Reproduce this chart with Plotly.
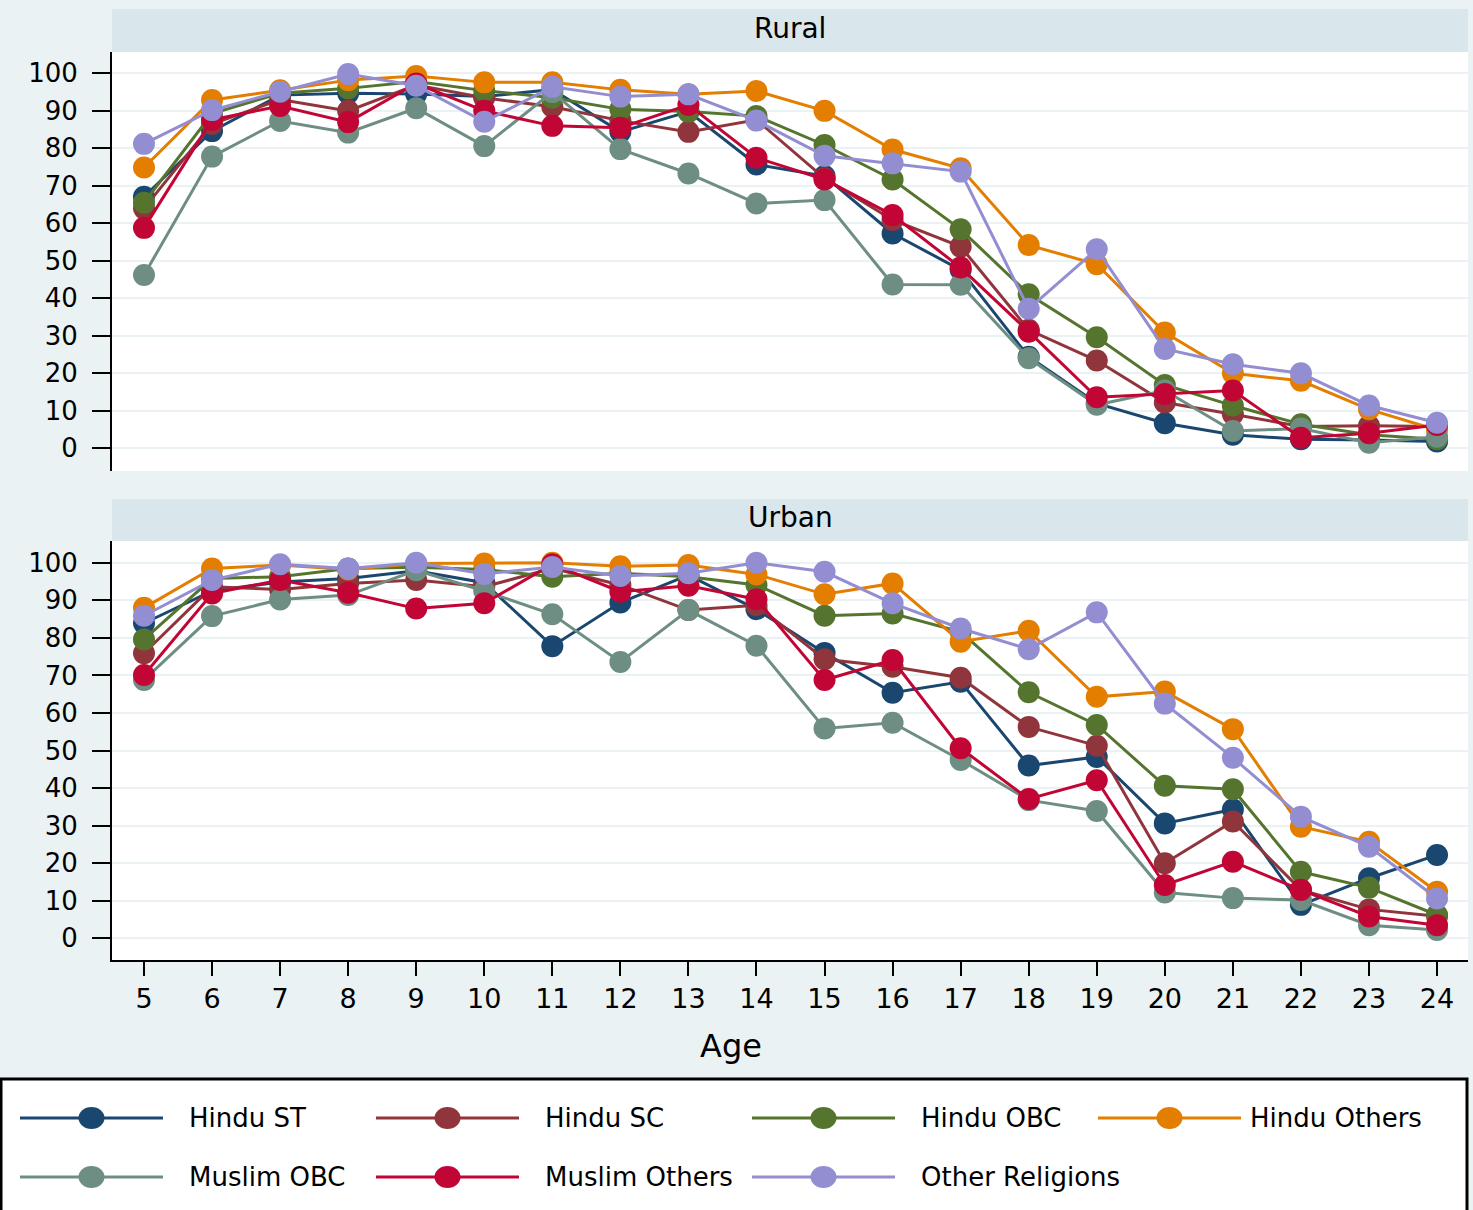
import plotly.graph_objects as go

# ---- data -------------------------------------------------------------
ages = list(range(5, 25))
y_ticks = list(range(0, 101, 10))

groups = ["Hindu ST", "Hindu SC", "Hindu OBC", "Hindu Others",
          "Muslim OBC", "Muslim Others", "Other Religions"]
colors = ["#1A476F", "#90353B", "#55752F", "#E37E00",
          "#6E8E84", "#C10534", "#938DD2"]

rural_hindu_st = [67.1, 84.6, 94.2, 94.7, 94.5, 93.8, 95.7, 84.4, 89.8, 75.7,
                  72.6, 57.3, 47.6, 24.4, 12.0, 6.7, 3.6, 2.4, 2.2, 1.8]
rural_hindu_sc = [64.0, 86.5, 93.0, 90.0, 96.9, 93.5, 91.1, 87.4, 84.4, 87.6,
                  72.0, 60.9, 53.8, 31.6, 23.4, 12.2, 9.1, 5.8, 6.0, 5.8]
rural_hindu_obc = [65.5, 89.3, 94.7, 96.0, 97.8, 95.4, 93.5, 90.4, 89.8, 88.6,
                   80.9, 71.7, 58.4, 41.1, 29.6, 16.9, 11.4, 6.4, 3.6, 2.4]
rural_hindu_others = [74.9, 92.9, 95.5, 98.2, 99.3, 97.6, 97.6, 95.6, 94.4, 95.3,
                      90.0, 79.7, 74.7, 54.2, 49.1, 30.9, 20.0, 18.0, 10.4, 4.9]
rural_muslim_obc = [46.2, 77.8, 87.3, 84.2, 90.7, 80.6, 95.0, 79.8, 73.3, 65.3,
                    66.2, 43.7, 43.6, 24.0, 11.6, 15.4, 4.6, 5.3, 1.5, 3.1]
rural_muslim_others = [58.8, 87.6, 91.3, 87.0, 97.3, 90.0, 86.0, 85.5, 91.6, 77.5,
                       71.7, 62.2, 48.2, 31.1, 13.6, 14.5, 15.4, 2.8, 4.0, 6.2]
rural_other_religions = [81.2, 90.2, 95.1, 99.8, 96.7, 87.1, 96.4, 93.8, 94.4, 87.4,
                         78.0, 76.0, 73.8, 37.2, 53.1, 26.5, 22.4, 20.0, 11.4, 6.8]

urban_hindu_st = [83.9, 92.5, 94.9, 95.8, 97.9, 94.7, 77.8, 89.4, 96.7, 87.6,
                  76.0, 65.4, 68.3, 46.0, 48.3, 30.6, 34.3, 8.9, 16.0, 22.2]
urban_hindu_sc = [75.9, 93.6, 92.9, 94.5, 95.4, 93.6, 98.5, 94.1, 87.4, 88.7,
                  74.3, 72.3, 69.4, 56.3, 51.3, 20.0, 31.1, 12.9, 7.7, 5.9]
urban_hindu_obc = [79.6, 95.8, 96.3, 98.5, 98.8, 98.2, 96.3, 97.2, 96.3, 94.1,
                   85.9, 86.5, 81.6, 65.5, 56.8, 40.6, 39.7, 17.7, 13.5, 6.2]
urban_hindu_others = [88.0, 98.5, 99.4, 98.2, 99.8, 99.8, 100.0, 99.1, 99.4, 96.9,
                      91.6, 94.5, 79.0, 81.9, 64.3, 65.7, 55.7, 29.7, 25.7, 12.4]
urban_muslim_obc = [68.8, 85.8, 90.2, 91.4, 98.0, 92.5, 86.3, 73.6, 87.4, 77.9,
                    55.9, 57.4, 47.5, 36.8, 33.9, 12.2, 10.7, 10.2, 3.5, 2.2]
urban_muslim_others = [70.1, 91.8, 95.4, 92.0, 87.8, 89.2, 99.6, 92.3, 93.9, 90.3,
                       68.8, 74.1, 50.6, 37.1, 42.1, 14.2, 20.4, 12.9, 5.8, 3.5]
urban_other_religions = [85.9, 95.4, 99.6, 98.5, 100.0, 97.0, 98.9, 96.5, 97.2, 100.0,
                         97.6, 89.2, 82.5, 77.0, 86.8, 62.5, 48.1, 32.4, 24.4, 10.6]

rural = [rural_hindu_st, rural_hindu_sc, rural_hindu_obc, rural_hindu_others,
         rural_muslim_obc, rural_muslim_others, rural_other_religions]
urban = [urban_hindu_st, urban_hindu_sc, urban_hindu_obc, urban_hindu_others,
         urban_muslim_obc, urban_muslim_others, urban_other_religions]

# ---- page geometry (pixels) --------------------------------------------
W, H = 1473, 1210
FONT = "DejaVu Sans"
OUTER_BG = "#EAF2F3"
STRIP_BG = "#D9E6EB"

plot_x0, plot_x1 = 112, 1468
panels = [  # (strip top, plot top, plot bottom)
    (9, 52, 471),
    (499, 541, 960),
]


def px_x(x):
    return x / W


def px_y(y):
    return 1 - y / H


fig = go.Figure()

for p, (data, ax) in enumerate([(rural, ""), (urban, "2")]):
    for name, vals, col in zip(groups, data, colors):
        fig.add_trace(go.Scatter(
            x=ages, y=vals, name=name, mode="lines+markers",
            xaxis="x" + ax, yaxis="y" + ax,
            line=dict(color=col, width=3),
            marker=dict(color=col, size=22, line=dict(width=0)),
            showlegend=False,
        ))

yaxis_common = dict(
    tickvals=y_ticks, showgrid=True, gridcolor=OUTER_BG, gridwidth=2,
    zeroline=False, showline=True, linecolor="black", linewidth=2,
    ticks="outside", ticklen=18, tickwidth=2, tickcolor="black",
    tickfont=dict(family=FONT, size=26, color="black"),
    ticklabelstandoff=9,
)
xrange = [4.53, 24.455]

fig.update_layout(
    width=W, height=H,
    margin=dict(l=0, r=0, t=0, b=0),
    paper_bgcolor=OUTER_BG, plot_bgcolor="white",
    xaxis=dict(domain=[px_x(plot_x0), px_x(plot_x1)], range=xrange,
               anchor="y", visible=False, showgrid=False),
    yaxis=dict(domain=[px_y(471), px_y(52)], range=[-6.05, 105.7],
               anchor="x", **yaxis_common),
    xaxis2=dict(domain=[px_x(plot_x0), px_x(plot_x1)], range=xrange,
                anchor="y2", showgrid=False, zeroline=False,
                showline=True, linecolor="black", linewidth=2,
                ticks="outside", ticklen=14, tickwidth=2, tickcolor="black",
                tickvals=ages, ticktext=[str(a) for a in ages],
                tickfont=dict(family=FONT, size=27, color="black"),
                ticklabelstandoff=0),
    yaxis2=dict(domain=[px_y(960), px_y(541)], range=[-5.78, 105.8],
                anchor="x2", **yaxis_common),
    showlegend=False,
)

shapes = []
annotations = []

# panel title strips
for title, (strip_top, plot_top, _) in zip(["Rural", "Urban"], panels):
    shapes.append(dict(type="rect", xref="paper", yref="paper",
                       x0=px_x(plot_x0), x1=px_x(plot_x1),
                       y0=px_y(plot_top), y1=px_y(strip_top),
                       fillcolor=STRIP_BG, line=dict(width=0), layer="below"))
    annotations.append(dict(text=title, xref="paper", yref="paper",
                            x=px_x((plot_x0 + plot_x1) / 2),
                            y=px_y((strip_top + plot_top) / 2 - 2),
                            showarrow=False, xanchor="center", yanchor="middle",
                            font=dict(family=FONT, size=28, color="black")))

# axis title
annotations.append(dict(text="Age", xref="paper", yref="paper",
                        x=px_x(731), y=px_y(1046), showarrow=False,
                        xanchor="center", yanchor="middle",
                        font=dict(family=FONT, size=32, color="black")))

# legend box
shapes.append(dict(type="rect", xref="paper", yref="paper",
                   x0=px_x(1), x1=px_x(1467), y0=px_y(1240), y1=px_y(1079),
                   fillcolor="white", line=dict(color="black", width=3)))

legend_cols = [20, 376, 752, 1098]
legend_text_x = [187, 543, 919, 1248]
legend_rows = [1118, 1177]
sample_len = 143
for i, (name, col) in enumerate(zip(groups, colors)):
    lx = legend_cols[i % 4]
    ly = legend_rows[i // 4]
    shapes.append(dict(type="line", xref="paper", yref="paper",
                       x0=px_x(lx), x1=px_x(lx + sample_len),
                       y0=px_y(ly), y1=px_y(ly),
                       line=dict(color=col, width=3)))
    cx = lx + sample_len / 2
    shapes.append(dict(type="circle", xref="paper", yref="paper",
                       x0=px_x(cx - 13), x1=px_x(cx + 13),
                       y0=px_y(ly + 11), y1=px_y(ly - 11),
                       fillcolor=col, line=dict(width=0)))
    annotations.append(dict(text=name, xref="paper", yref="paper",
                            x=px_x(legend_text_x[i % 4]), y=px_y(ly),
                            showarrow=False, xanchor="left", yanchor="middle",
                            font=dict(family=FONT, size=26, color="black")))

fig.update_layout(shapes=shapes, annotations=annotations)

fig.write_html("out.html")
